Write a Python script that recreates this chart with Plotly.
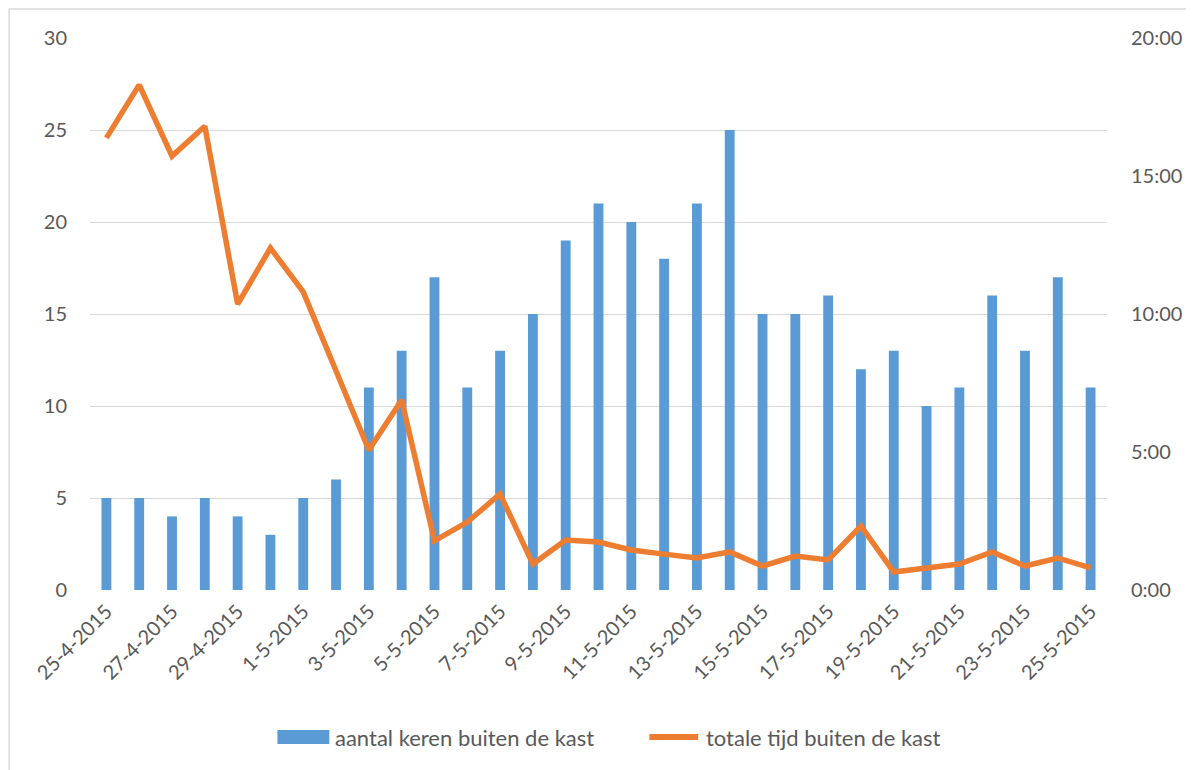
import plotly.graph_objects as go

dates = ["25-4-2015", "26-4-2015", "27-4-2015", "28-4-2015", "29-4-2015", "30-4-2015",
         "1-5-2015", "2-5-2015", "3-5-2015", "4-5-2015", "5-5-2015", "6-5-2015",
         "7-5-2015", "8-5-2015", "9-5-2015", "10-5-2015", "11-5-2015", "12-5-2015",
         "13-5-2015", "14-5-2015", "15-5-2015", "16-5-2015", "17-5-2015", "18-5-2015",
         "19-5-2015", "20-5-2015", "21-5-2015", "22-5-2015", "23-5-2015", "24-5-2015",
         "25-5-2015"]
aantal = [5, 5, 4, 5, 4, 3, 5, 6, 11, 13, 17, 11, 13, 15, 19, 21, 20, 18, 21, 25,
          15, 15, 16, 12, 13, 10, 11, 16, 13, 17, 11]
# total time outside (hours)
tijd_uren = [16.38, 18.3, 15.72, 16.8, 10.36, 12.39, 10.8, 7.9, 5.07, 6.88, 1.78, 2.46,
             3.48, 0.94, 1.81, 1.74, 1.45, 1.30, 1.16, 1.38, 0.87, 1.23, 1.09, 2.32,
             0.65, 0.80, 0.94, 1.38, 0.87, 1.16, 0.80]
left_ticks = [0, 5, 10, 15, 20, 25, 30]
right_ticks = [0, 5, 10, 15, 20]
right_ticktext = ["0:00", "5:00", "10:00", "15:00", "20:00"]
legend_names = ["aantal keren buiten de kast", "totale tijd buiten de kast"]

FONT = "Lato, 'Open Sans', sans-serif"
GRAY = "#595959"
BLUE = "#5B9BD5"
ORANGE = "#ED7D31"

fig = go.Figure()
fig.add_trace(go.Bar(x=dates, y=aantal, name=legend_names[0],
                     marker=dict(color=BLUE, line=dict(width=0)), yaxis="y"))
fig.add_trace(go.Scatter(x=dates, y=tijd_uren, name=legend_names[1],
                         mode="lines", line=dict(color=ORANGE, width=5.5),
                         yaxis="y2"))

# page body has an 8px margin; compensate so the plot lands at the target pixels
OFF = 8
PL, PR, PT, PB = 90, 1110, 38, 590       # plot area in screen pixels
W, H = 1194 - OFF, 770 - OFF
L, T = PL - OFF, PT - OFF
R, B = 1194 - PR, 770 - PB
pw, ph = PR - PL, PB - PT


def px(x):
    return (x - PL) / pw


def py(y):
    return (PB - y) / ph


fig.update_layout(
    width=W, height=H,
    margin=dict(l=L, r=R, t=T, b=B),
    paper_bgcolor="white", plot_bgcolor="white",
    font=dict(family=FONT, size=19, color=GRAY),
    bargap=0.7,
    showlegend=False,
    xaxis=dict(type="category", tickmode="array", tickvals=dates[::2],
               ticktext=dates[::2], tickangle=-45, showgrid=False,
               showline=False, ticks="", ticklabelstandoff=5,
               tickfont=dict(size=20, color=GRAY)),
    yaxis=dict(range=[0, 30], tickvals=left_ticks, showgrid=True,
               gridcolor="#d9d9d9", gridwidth=1.3, zeroline=False, showline=False,
               ticks="", ticklabelstandoff=22, tickfont=dict(size=20, color=GRAY)),
    yaxis2=dict(range=[0, 20], overlaying="y", side="right", tickvals=right_ticks,
                ticktext=right_ticktext, showgrid=False, zeroline=False,
                showline=False, ticks="", ticklabelstandoff=23,
                tickfont=dict(size=20, color=GRAY)),
    shapes=[
        # chart border
        dict(type="rect", xref="paper", yref="paper",
             x0=px(9), x1=px(1200), y0=py(776), y1=py(9),
             line=dict(color="#d9d9d9", width=1.5), layer="below"),
        # legend symbols
        dict(type="rect", xref="paper", yref="paper",
             x0=px(278), x1=px(330), y0=py(744), y1=py(730),
             fillcolor=BLUE, line=dict(width=0)),
        dict(type="line", xref="paper", yref="paper",
             x0=px(651), x1=px(700), y0=py(737), y1=py(737),
             line=dict(color=ORANGE, width=6)),
    ],
    annotations=[
        dict(text=legend_names[0], xref="paper", yref="paper", x=px(334), y=py(737),
             xanchor="left", yanchor="middle", showarrow=False,
             font=dict(size=22, color=GRAY)),
        dict(text=legend_names[1], xref="paper", yref="paper", x=px(706), y=py(737),
             xanchor="left", yanchor="middle", showarrow=False,
             font=dict(size=22, color=GRAY)),
    ],
)

fig.write_html("out.html")
